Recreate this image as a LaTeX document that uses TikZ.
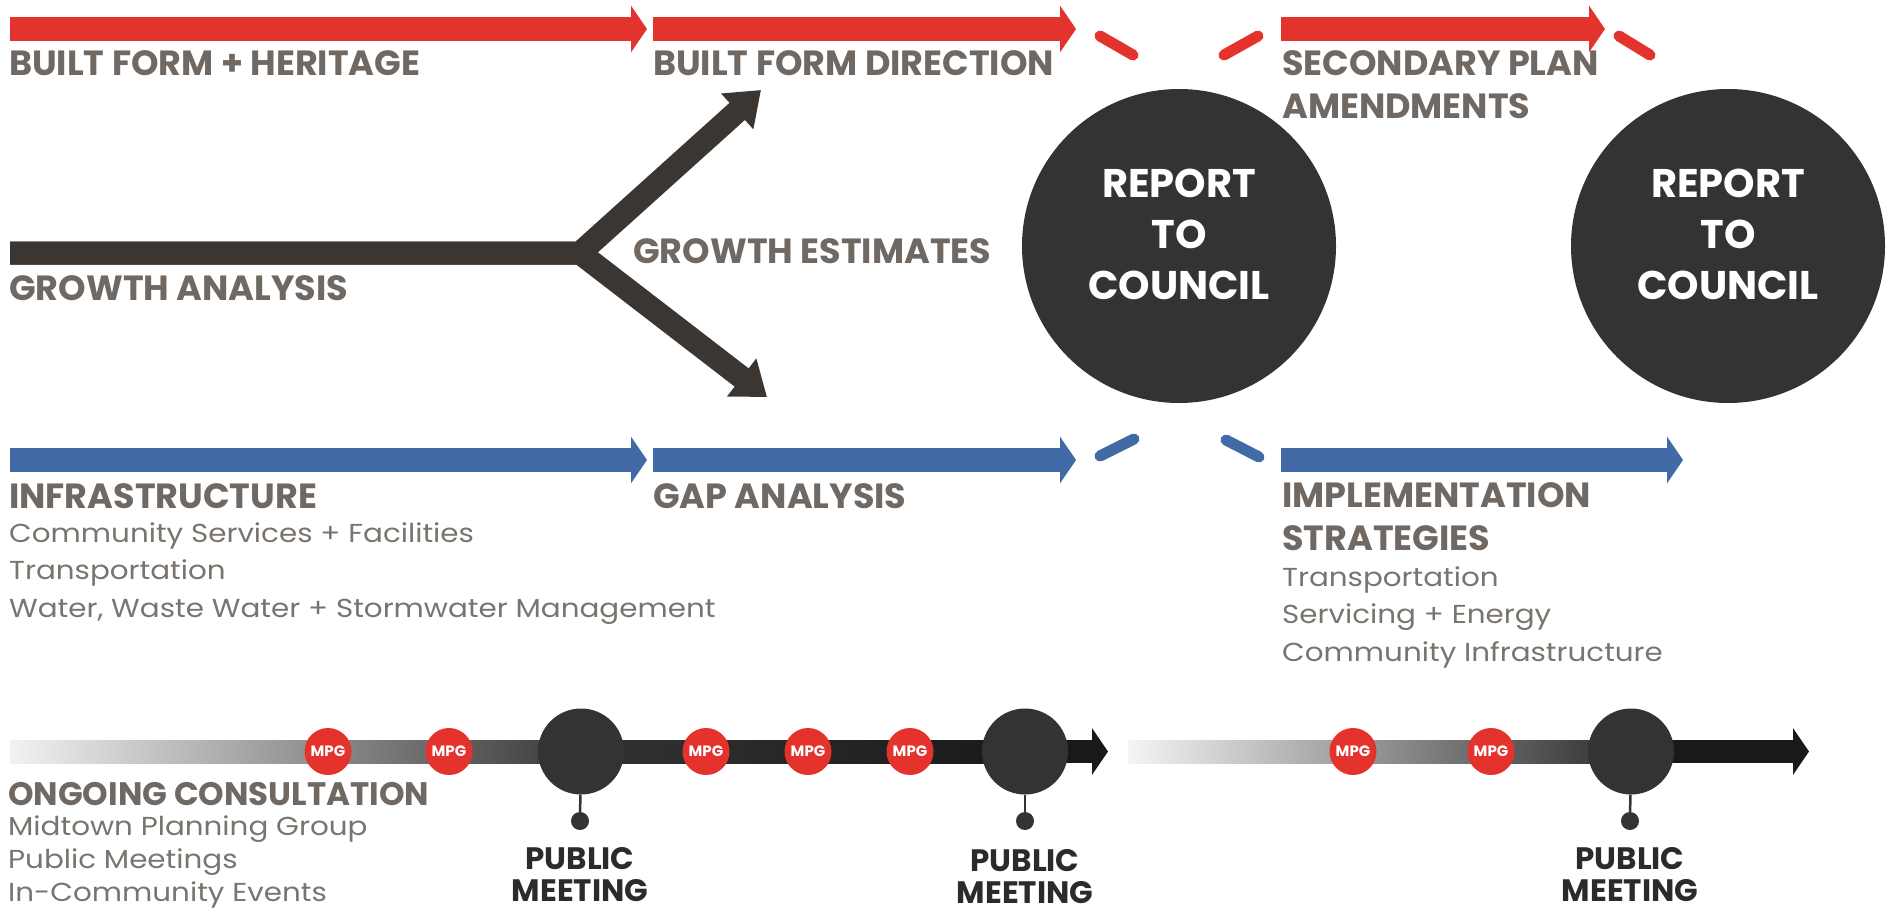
\documentclass[tikz,border=0pt]{standalone}
\usepackage{fontspec}
\setmainfont{Poppins}
\newfontfamily\widefont[FakeStretch=1.13]{Poppins}
\usetikzlibrary{arrows.meta,calc}

\definecolor{planred}{RGB}{228,50,44}
\definecolor{planblue}{RGB}{66,106,166}
\definecolor{labelgray}{RGB}{111,104,99}
\definecolor{councilgray}{RGB}{51,51,51}
\definecolor{growthgray}{RGB}{59,54,49}
\definecolor{meetgray}{RGB}{43,43,43}

\tikzset{
    stage/.style={line width=24pt,-{Triangle[length=16pt,width=46pt]}},
    link/.style={line width=11pt,line cap=round},
    growth/.style={line width=23pt,growthgray,line join=miter,-{Triangle[length=32pt,width=46pt]}},
    timeline/.style={line width=23pt,black!90,-{Triangle[length=16pt,width=46pt]}},
    heading/.style={anchor=base west,inner sep=0pt,text=labelgray,align=left,
        font=\fontsize{35}{43}\selectfont\bfseries},
    detail/.style={anchor=base west,inner sep=0pt,text=labelgray!92,align=left,
        font=\widefont\fontsize{26}{37.5}\selectfont},
    council/.style={circle,fill=councilgray,minimum size=314pt,inner sep=0pt},
    counciltext/.style={text=white,align=center,inner sep=0pt,
        font=\fontsize{40}{51}\selectfont\bfseries},
    mpg/.style={circle,fill=planred,minimum size=47pt,inner sep=0pt,text=white,
        font=\fontsize{15}{15}\selectfont\bfseries},
    meeting/.style={circle,fill=councilgray,minimum size=86pt,inner sep=0pt},
    meetdot/.style={circle,fill=councilgray,minimum size=18pt,inner sep=0pt},
    meettext/.style={anchor=base,text=meetgray,align=center,inner sep=0pt,
        font=\fontsize{31}{32}\selectfont\bfseries},
}

\begin{document}
\begin{tikzpicture}[x=1pt,y=-1pt]
    \useasboundingbox (0,0) rectangle (1887,911);

    % Ends of the stages
    \coordinate (r1a) at (10,29);
    \coordinate (r1b) at (647,29);
    \coordinate (r2a) at (653,29);
    \coordinate (r2b) at (1076,29);
    \coordinate (r3a) at (1281,29);
    \coordinate (r3b) at (1605,29);
    \coordinate (b1a) at (10,460);
    \coordinate (b1b) at (647,460);
    \coordinate (b2a) at (653,460);
    \coordinate (b2b) at (1076,460);
    \coordinate (b3a) at (1281,460);
    \coordinate (b3b) at (1683,460);
    \coordinate (ga) at (10,253);
    \coordinate (gfork) at (580,253);
    \coordinate (gup) at (761,90);
    \coordinate (gdown) at (767,397);
    \coordinate (t1a) at (10,751.5);
    \coordinate (t1m) at (581,751.5);
    \coordinate (t1n) at (1025,751.5);
    \coordinate (t1b) at (1108,751.5);
    \coordinate (t2a) at (1128,751.5);
    \coordinate (t2m) at (1631,751.5);
    \coordinate (t2b) at (1809,751.5);

    % Report nodes
    \node at (1179,246) [council,label={[counciltext,yshift=12pt]center:REPORT\\TO\\COUNCIL}] (rtc1) {};
    \node at (1728,246) [council,label={[counciltext,yshift=12pt]center:REPORT\\TO\\COUNCIL}] (rtc2) {};

    % Red stages
    \draw[stage,planred] (r1a) -- (r1b);
    \draw[stage,planred] (r2a) -- (r2b);
    \draw[stage,planred] (r3a) -- (r3b);
    \coordinate (rd1a) at (1100,36);
    \coordinate (rd1b) at (1133,55);
    \coordinate (rd2a) at (1224,55);
    \coordinate (rd2b) at (1258,36);
    \coordinate (rd3a) at (1619,36);
    \coordinate (rd3b) at (1650,55);
    \draw[link,planred] (rd1a) -- (rd1b);
    \draw[link,planred] (rd2a) -- (rd2b);
    \draw[link,planred] (rd3a) -- (rd3b);

    % Blue stages
    \draw[stage,planblue] (b1a) -- (b1b);
    \draw[stage,planblue] (b2a) -- (b2b);
    \draw[stage,planblue] (b3a) -- (b3b);
    \coordinate (bd1a) at (1100,456);
    \coordinate (bd1b) at (1134,439);
    \coordinate (bd2a) at (1226,440);
    \coordinate (bd2b) at (1259,457);
    \draw[link,planblue] (bd1a) -- (bd1b);
    \draw[link,planblue] (bd2a) -- (bd2b);

    % Growth fork
    \draw[growth] (ga) -- (gfork) -- (gup);
    \draw[growth] (ga) -- (gfork) -- (gdown);

    % Stage labels
    \node at (9,75) [heading] (bfh) {BUILT FORM + HERITAGE};
    \node at (653,75) [heading] (bfd) {BUILT FORM DIRECTION};
    \node at (1282,118) [heading] (spa) {SECONDARY PLAN\\AMENDMENTS};
    \node at (9,300) [heading] (gan) {GROWTH ANALYSIS};
    \node at (633,263) [heading] (ges) {GROWTH ESTIMATES};
    \node at (9,508) [heading] (inf) {INFRASTRUCTURE};
    \node at (9,617) [detail] (infd) {Community Services + Facilities\\Transportation\\Water, Waste Water + Stormwater Management};
    \node at (653,508) [heading] (gap) {GAP ANALYSIS};
    \node at (1282,550) [heading] (imp) {IMPLEMENTATION\\STRATEGIES};
    \node at (1282,661) [detail] (impd) {Transportation\\Servicing + Energy\\Community Infrastructure};

    % Consultation timelines
    \shade[left color=black!5,right color=black!78] ($(t1a)+(0,-11.5)$) rectangle ($(t1m)+(0,11.5)$);
    \shade[left color=black!80,right color=black!90] ($(t1m)+(0,-11.5)$) rectangle ($(t1n)+(0,11.5)$);
    \draw[timeline] (t1n) -- (t1b);
    \shade[left color=black!4,right color=black!82] ($(t2a)+(0,-11.5)$) rectangle ($(t2m)+(0,11.5)$);
    \draw[timeline] (t2m) -- (t2b);

    \node at (t1m) [meeting] (pm1) {};
    \node at (t1n) [meeting] (pm2) {};
    \node at (t2m) [meeting] (pm3) {};

    \node at (328,751.5) [mpg] (mpg1) {MPG};
    \node at (449,751.5) [mpg] (mpg2) {MPG};
    \node at (706,751.5) [mpg] (mpg3) {MPG};
    \node at (808,751.5) [mpg] (mpg4) {MPG};
    \node at (910,751.5) [mpg] (mpg5) {MPG};
    \node at (1353,751.5) [mpg] (mpg6) {MPG};
    \node at (1491,751.5) [mpg] (mpg7) {MPG};

    % Public meetings
    \node at (580,821) [meetdot] (pmd1) {};
    \node at (1025,821) [meetdot] (pmd2) {};
    \node at (1630,821) [meetdot] (pmd3) {};
    \draw[councilgray,line width=2.5pt] (pm1) -- (pmd1);
    \draw[councilgray,line width=2.5pt] (pm2) -- (pmd2);
    \draw[councilgray,line width=2.5pt] (pm3) -- (pmd3);
    \node at (580,901) [meettext] (pmt1) {PUBLIC\\MEETING};
    \node at (1025,903) [meettext] (pmt2) {PUBLIC\\MEETING};
    \node at (1630,901) [meettext] (pmt3) {PUBLIC\\MEETING};

    \node at (8,805) [heading,font=\fontsize{32.5}{32.5}\selectfont\bfseries] (ogc) {ONGOING CONSULTATION};
    \node at (8,901) [detail,font=\widefont\fontsize{26}{33}\selectfont] (ogcd) {Midtown Planning Group\\Public Meetings\\In-Community Events};
\end{tikzpicture}
\end{document}
